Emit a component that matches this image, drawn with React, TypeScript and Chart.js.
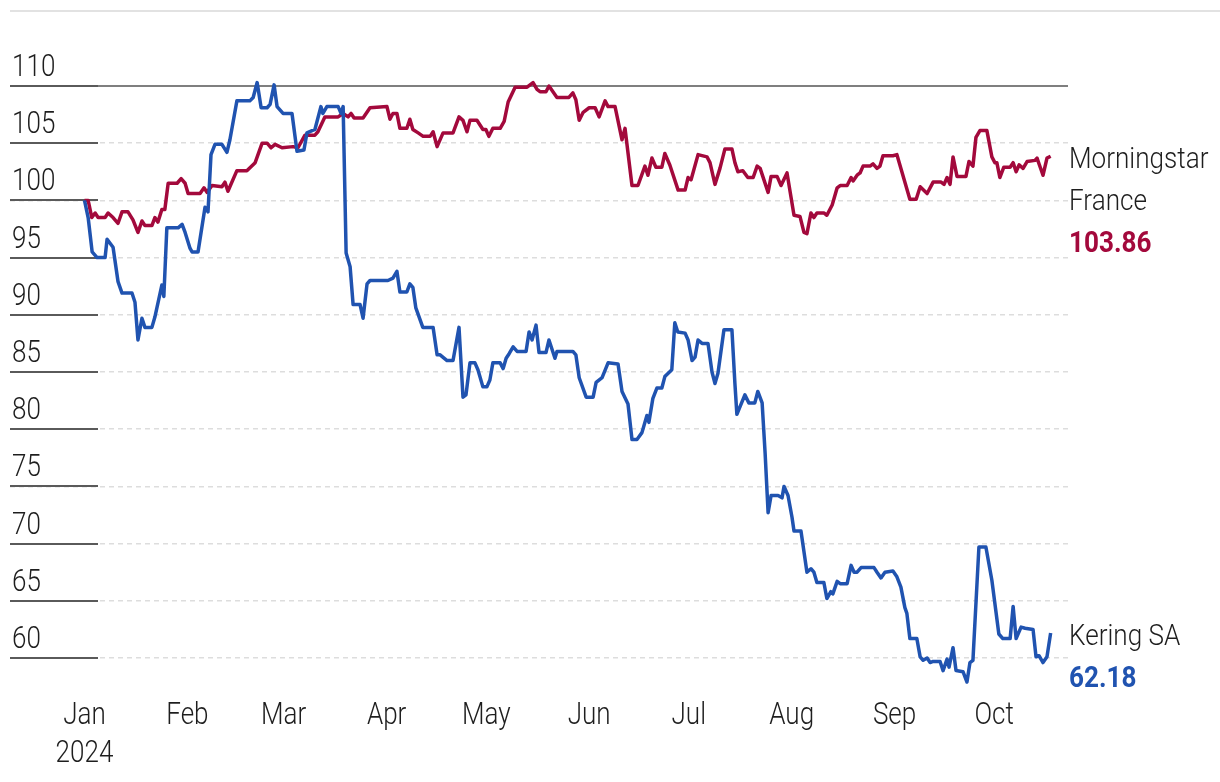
import React, { useEffect, useRef } from "react";
import { Chart, registerables } from "chart.js";

Chart.register(...registerables);

// ---- Data (day index: 0 = 1 Jan 2024) ----
const monthDays = [0, 31, 60, 91, 121, 152, 182, 213, 244, 274];
const monthLabels: string[][] = [["Jan", "2024"], ["Feb"], ["Mar"], ["Apr"], ["May"], ["Jun"], ["Jul"], ["Aug"], ["Sep"], ["Oct"]];
const yTickValues = [60, 65, 70, 75, 80, 85, 90, 95, 100, 105, 110];

const franceName = ["Morningstar", "France"];
const franceDays = [
  0, 1.1, 2.2, 3.2, 4.1, 6.2, 7.1, 8.6, 10.1, 11.3,
  13.1, 14.6, 16.1, 17.3, 18.2, 20.3, 21.2, 22.1, 23.3, 24.2,
  25.2, 27.9, 29.1, 30.3, 31.2, 34.8, 36.0, 36.9, 38.4, 41.4,
  42.3, 43.2, 45.9, 48.9, 51.4, 53.5, 55.0, 56.2, 57.4, 59.5,
  62.8, 64.3, 66.4, 69.4, 70.3, 72.4, 76.4, 77.9, 79.4, 80.3,
  81.2, 83.9, 86.0, 91.1, 92.0, 92.9, 94.1, 95.0, 97.1, 98.0,
  98.9, 100.5, 102.0, 104.1, 105.0, 106.2, 108.0, 111.0, 112.8, 114.0,
  115.2, 116.1, 118.2, 120.0, 120.9, 121.8, 123.0, 125.2, 126.4, 127.6,
  129.7, 133.3, 135.1, 136.3, 137.2, 139.0, 139.9, 142.3, 143.2, 145.9,
  147.1, 148.0, 149.0, 150.2, 152.0, 153.8, 155.0, 156.8, 157.7, 159.8,
  161.9, 162.8, 164.9, 166.7, 168.8, 169.7, 170.9, 172.1, 173.9, 174.8,
  176.3, 178.8, 180.9, 181.8, 182.7, 184.8, 187.5, 188.4, 189.9, 191.4,
  192.9, 195.0, 195.9, 196.8, 198.3, 199.8, 201.4, 202.6, 203.5, 205.9,
  206.8, 208.6, 209.8, 211.6, 213.7, 215.5, 216.7, 217.6, 218.8, 219.7,
  220.6, 222.7, 223.6, 225.2, 226.7, 227.6, 229.7, 230.9, 231.5, 232.7,
  233.6, 234.5, 236.6, 237.5, 238.7, 239.6, 240.5, 243.5, 244.7, 248.6,
  250.5, 251.7, 253.8, 255.6, 258.0, 258.9, 259.8, 260.7, 261.6, 262.8,
  265.5, 266.4, 267.6, 268.5, 269.7, 271.8, 273.3, 274.2, 274.8, 275.7,
  276.9, 278.8, 279.7, 280.6, 281.5, 282.7, 283.9, 286.3, 286.9, 288.1,
  288.7, 289.9, 291,
];
const franceValues = [
  100.0, 100.0, 98.5, 98.9, 98.5, 98.5, 98.9, 98.5, 98.0, 99.0,
  99.0, 98.3, 97.2, 98.2, 97.8, 97.8, 98.5, 98.1, 99.2, 99.2,
  101.5, 101.5, 101.9, 101.5, 100.6, 100.6, 101.1, 100.7, 101.3, 101.2,
  101.6, 100.8, 102.6, 102.6, 103.3, 105.0, 105.0, 104.6, 104.9, 104.6,
  104.7, 104.6, 105.7, 105.7, 106.0, 107.3, 107.3, 107.6, 107.3, 107.6,
  107.2, 107.2, 108.1, 108.2, 107.1, 107.6, 107.6, 106.3, 106.3, 107.1,
  106.2, 105.9, 105.6, 105.6, 106.0, 104.7, 105.9, 105.9, 107.3, 107.0,
  106.0, 107.0, 107.0, 106.2, 106.2, 105.6, 106.3, 106.3, 106.9, 108.6,
  109.9, 109.9, 110.3, 109.7, 109.5, 109.5, 110.0, 109.0, 109.0, 109.0,
  109.4, 108.8, 107.0, 107.7, 108.1, 108.1, 107.3, 108.7, 108.2, 108.2,
  105.3, 106.3, 101.3, 101.3, 103.0, 102.2, 103.7, 102.9, 102.9, 104.1,
  103.1, 100.9, 100.9, 102.0, 101.8, 104.0, 103.8, 103.3, 101.4, 102.8,
  104.5, 104.5, 103.3, 102.5, 102.6, 102.0, 102.0, 103.0, 102.8, 100.7,
  102.1, 102.1, 101.3, 102.4, 98.7, 98.6, 97.2, 97.1, 98.9, 98.5,
  98.9, 98.9, 98.7, 99.6, 101.1, 101.3, 101.3, 102.0, 101.7, 102.2,
  102.4, 103.0, 103.0, 103.2, 102.8, 103.0, 103.9, 103.9, 104.0, 100.1,
  100.1, 101.2, 100.6, 101.6, 101.6, 101.4, 102.0, 101.4, 103.8, 102.1,
  102.1, 103.4, 103.0, 105.5, 106.1, 106.1, 103.8, 103.3, 103.3, 102.0,
  102.9, 102.9, 103.3, 102.5, 103.1, 102.8, 103.4, 103.5, 103.7, 102.7,
  102.2, 103.7, 103.86,
];

const keringName = ["Kering SA"];
const keringDays = [
  0, 1.1, 2.3, 3.8, 6.2, 6.8, 8.6, 10.1, 11.3, 14.3,
  15.2, 16.1, 17.3, 18.2, 20.3, 21.2, 23.3, 23.9, 24.8, 28.2,
  29.4, 30.3, 31.8, 32.4, 34.2, 36.3, 37.2, 38.1, 39.3, 41.4,
  42.9, 43.8, 45.9, 49.8, 50.8, 52.0, 53.2, 55.0, 55.9, 57.1,
  58.0, 59.8, 62.5, 64.0, 66.1, 67.0, 69.4, 71.2, 71.8, 73.0,
  76.4, 77.3, 77.9, 78.8, 80.0, 80.9, 83.0, 83.9, 85.1, 86.0,
  91.4, 92.9, 94.1, 95.0, 97.1, 98.0, 98.9, 99.8, 101.9, 105.0,
  106.2, 107.1, 109.2, 111.0, 112.8, 114.0, 114.9, 116.1, 117.6, 118.5,
  120.0, 121.2, 122.1, 123.0, 125.2, 126.1, 127.0, 127.9, 129.1, 130.3,
  133.0, 133.9, 134.8, 136.0, 136.9, 139.0, 139.9, 141.7, 142.3, 147.1,
  148.0, 149.0, 151.1, 153.2, 154.1, 155.9, 157.7, 160.7, 161.9, 163.7,
  164.9, 166.4, 167.9, 169.4, 170.0, 171.2, 172.4, 173.9, 174.8, 176.9,
  177.8, 178.7, 180.9, 181.8, 183.0, 183.9, 184.8, 186.0, 187.8, 189.0,
  189.9, 190.8, 192.6, 195.0, 195.9, 196.5, 198.9, 200.1, 201.9, 202.8,
  204.1, 205.0, 205.9, 206.8, 208.9, 210.1, 210.7, 211.9, 213.1, 213.7,
  215.8, 217.6, 218.8, 219.7, 220.6, 222.7, 223.6, 224.8, 225.4, 226.7,
  227.6, 229.7, 230.9, 231.8, 232.7, 233.9, 237.8, 238.7, 239.9, 241.1,
  243.5, 244.7, 245.9, 247.1, 247.7, 248.6, 250.7, 251.7, 252.6, 253.8,
  254.7, 255.6, 257.7, 258.6, 259.8, 260.4, 261.6, 262.5, 264.6, 265.8,
  266.7, 267.6, 269.4, 271.5, 273.3, 275.4, 276.6, 278.8, 279.7, 280.6,
  282.1, 283.3, 285.7, 286.6, 287.5, 288.7, 289.9, 291,
];
const keringValues = [
  100.0, 98.5, 95.5, 95.0, 95.0, 96.6, 95.9, 92.9, 91.9, 91.9,
  91.1, 87.8, 89.7, 88.9, 88.9, 89.8, 92.6, 91.6, 97.6, 97.6,
  97.9, 97.2, 95.8, 95.5, 95.5, 99.4, 99.0, 104.0, 104.9, 104.9,
  104.2, 105.3, 108.7, 108.7, 109.0, 110.3, 108.1, 108.1, 108.4, 110.1,
  108.2, 107.6, 107.6, 104.3, 104.4, 105.9, 106.2, 108.2, 107.6, 108.2,
  108.2, 107.6, 108.2, 95.4, 94.2, 90.9, 90.9, 89.7, 92.7, 93.0,
  93.0, 93.2, 93.8, 92.0, 92.0, 92.7, 92.4, 90.6, 88.9, 88.9,
  86.5, 86.5, 86.0, 86.0, 88.9, 82.8, 83.0, 85.8, 85.8, 85.2,
  83.7, 83.7, 84.3, 85.8, 85.8, 85.3, 86.2, 86.6, 87.2, 86.8,
  86.8, 88.5, 87.8, 89.1, 86.7, 86.7, 87.8, 86.2, 86.8, 86.8,
  86.5, 84.5, 82.8, 82.8, 84.1, 84.5, 85.8, 85.7, 83.3, 82.2,
  79.1, 79.1, 79.7, 81.2, 80.6, 82.7, 83.6, 83.6, 84.6, 85.2,
  89.3, 88.5, 88.4, 87.8, 86.0, 86.3, 87.8, 87.5, 87.5, 85.0,
  84.0, 84.9, 88.7, 88.7, 84.0, 81.3, 83.0, 82.3, 82.3, 83.3,
  82.3, 77.9, 72.7, 74.2, 74.2, 74.0, 75.0, 74.2, 72.3, 71.1,
  71.1, 67.5, 67.8, 67.5, 66.6, 66.6, 65.2, 65.8, 65.6, 66.7,
  66.5, 66.5, 68.1, 67.5, 67.5, 67.9, 67.9, 67.5, 67.0, 67.5,
  67.6, 67.1, 66.2, 64.4, 63.9, 61.7, 61.7, 60.1, 59.8, 60.0,
  59.6, 59.7, 59.7, 58.9, 59.9, 59.2, 60.9, 58.9, 58.8, 57.9,
  59.6, 59.8, 69.7, 69.7, 66.8, 62.1, 61.7, 61.7, 64.5, 61.7,
  62.7, 62.6, 62.5, 60.1, 60.2, 59.6, 60.1, 62.18,
];

// ---- Styling ----
const RED = "#a3093c";
const BLUE = "#2053b0";
const TEXT = "#1e1e1e";
const FONT_FAMILY = "Roboto, 'Liberation Sans', sans-serif";
const AXIS_FONT = `300 31px ${FONT_FAMILY}`;
const LABEL_FONT = `300 30px ${FONT_FAMILY}`;
const VALUE_FONT = `bold 30px ${FONT_FAMILY}`;
const H_SCALE = 0.84;
const X_MIN = -22.44;
const X_MAX = 296.23;
const TOP_VALUE = 110;

const endLabels = [
  { lines: franceName, values: franceValues, color: RED },
  { lines: keringName, values: keringValues, color: BLUE },
];

function drawText(ctx: CanvasRenderingContext2D, text: string, x: number, y: number, align: CanvasTextAlign, font: string, color: string, sx: number) {
  ctx.save();
  ctx.font = font;
  ctx.fillStyle = color;
  ctx.textAlign = align;
  ctx.textBaseline = "alphabetic";
  ctx.translate(x, y);
  ctx.scale(sx, 1);
  ctx.fillText(text, 0, 0);
  ctx.restore();
}

const decorPlugin = {
  id: "decor",
  beforeDraw(chart: any) {
    const ctx = chart.ctx;
    ctx.save();
    ctx.strokeStyle = "#e2e2e2";
    ctx.lineWidth = 2;
    ctx.beginPath();
    ctx.moveTo(10, 11);
    ctx.lineTo(chart.width, 11);
    ctx.stroke();
    ctx.restore();
  },
  beforeDatasetsDraw(chart: any) {
    const ctx = chart.ctx;
    const yScale = chart.scales.y;
    const xScale = chart.scales.x;
    const area = chart.chartArea;
    ctx.save();
    for (const t of yScale.ticks) {
      const py = Math.round(yScale.getPixelForValue(t.value));
      if (t.value === TOP_VALUE) {
        ctx.lineWidth = 1.3;
        ctx.strokeStyle = "#555555";
        ctx.beginPath();
        ctx.moveTo(98, py);
        ctx.lineTo(area.right, py);
        ctx.stroke();
      }
      ctx.strokeStyle = "#5a5a5a";
      ctx.lineWidth = 2;
      ctx.beginPath();
      ctx.moveTo(area.left, py);
      ctx.lineTo(98, py);
      ctx.stroke();
      drawText(ctx, String(t.value), area.left + 2, py - 10, "left", AXIS_FONT, TEXT, H_SCALE);
    }
    // month labels
    monthDays.forEach((d, i) => {
      const px = xScale.getPixelForValue(d);
      monthLabels[i].forEach((line, j) => {
        drawText(ctx, line, px, area.bottom + 66 + j * 38, "center", AXIS_FONT, TEXT, H_SCALE);
      });
    });
    ctx.restore();
  },
  afterDatasetsDraw(chart: any) {
    const ctx = chart.ctx;
    const yScale = chart.scales.y;
    const area = chart.chartArea;
    for (const lab of endLabels) {
      const last = lab.values[lab.values.length - 1];
      const py = yScale.getPixelForValue(last);
      let base = py + 12;
      for (const line of lab.lines) {
        drawText(ctx, line, area.right + 1, base, "left", LABEL_FONT, TEXT, 0.87);
        base += 42;
      }
      drawText(ctx, last.toFixed(2), area.right + 1, base, "left", VALUE_FONT, lab.color, 0.87);
    }
  },
};

export default function App() {
  const canvasRef = useRef<HTMLCanvasElement | null>(null);

  useEffect(() => {
    if (!canvasRef.current) return;
    const toPoints = (days: number[], vals: number[]) => days.map((d, i) => ({ x: d, y: vals[i] }));
    const chart = new Chart(canvasRef.current, {
      type: "line",
      data: {
        datasets: [
          {
            label: "Kering SA",
            data: toPoints(keringDays, keringValues),
            borderColor: BLUE,
            borderWidth: 3.5,
            pointRadius: 0,
            tension: 0,
            clip: false as any,
            borderJoinStyle: "round",
          },
          {
            label: "Morningstar France",
            data: toPoints(franceDays, franceValues),
            borderColor: RED,
            borderWidth: 3.5,
            pointRadius: 0,
            tension: 0,
            clip: false as any,
            borderJoinStyle: "round",
          },
        ],
      },
      options: {
        responsive: false,
        animation: false,
        events: [],
        layout: { padding: { left: 10, right: 152, top: 86, bottom: 0 } },
        plugins: { legend: { display: false }, tooltip: { enabled: false } },
        scales: {
          x: {
            type: "linear",
            min: X_MIN,
            max: X_MAX,
            afterBuildTicks: (s: any) => {
              s.ticks = monthDays.map((v) => ({ value: v }));
            },
            afterFit: (s: any) => {
              s.height = 124;
            },
            grid: { display: false },
            border: { display: false },
            ticks: { display: false },
          },
          y: {
            type: "linear",
            min: 60,
            max: 110,
            afterBuildTicks: (s: any) => {
              s.ticks = yTickValues.map((v) => ({ value: v }));
            },
            afterFit: (s: any) => {
              s.width = 0;
            },
            grid: {
              color: (c: any) => (c.tick && c.tick.value === TOP_VALUE ? "rgba(0,0,0,0)" : "#dddddd"),
              lineWidth: 1.6,
              drawTicks: false,
            },
            border: { display: false, dash: [5, 4] },
            ticks: { display: false },
          },
        },
      },
      plugins: [decorPlugin],
    } as any);
    return () => chart.destroy();
  }, []);

  return (
    <div style={{ position: "fixed", left: 0, top: 0, width: 1220, height: 782, background: "#fff" }}>
      <canvas ref={canvasRef} width={1220} height={782} />
    </div>
  );
}
